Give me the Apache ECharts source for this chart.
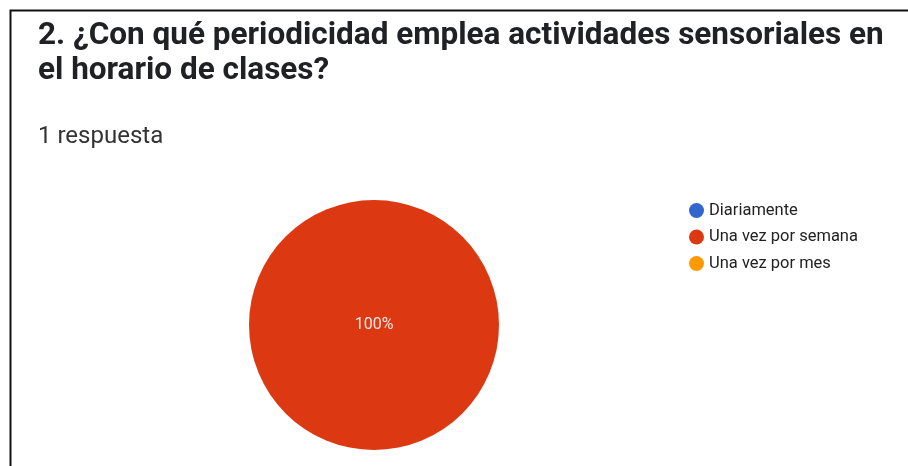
<!DOCTYPE html>
<html>
<head>
<meta charset="utf-8">
<script src="https://cdn.jsdelivr.net/npm/echarts@6/dist/echarts.min.js"></script>
<style>
html,body{margin:0;padding:0;background:#fff;}
#c{width:908px;height:466px;}
</style>
</head>
<body>
<div id="c"></div>
<script>
const titleLines = ["2. ¿Con qué periodicidad emplea actividades sensoriales en", "el horario de clases?"];
const subtitle = "1 respuesta";
const categories = ["Diariamente", "Una vez por semana", "Una vez por mes"];
const values = [0, 1, 0];
const colors = ["#3366cc", "#dc3912", "#ff9900"];

const chart = echarts.init(document.getElementById('c'));
chart.setOption({
  animation: false,
  graphic: [{
    type: 'rect',
    shape: {x: 10.5, y: 10.5, width: 920, height: 470},
    style: {fill: 'none', stroke: '#111', lineWidth: 2},
    silent: true
  }],
  title: [{
    text: titleLines.join('\n'),
    left: 33,
    top: 14,
    textStyle: {fontFamily: 'Roboto', fontSize: 31.5, fontWeight: 'bold', color: '#202124', lineHeight: 35}
  }, {
    text: subtitle,
    left: 33,
    top: 120,
    textStyle: {fontFamily: 'Roboto', fontSize: 24, fontWeight: 'normal', color: '#333'}
  }],
  color: colors,
  legend: {
    orient: 'vertical',
    left: 684,
    top: 197,
    icon: 'circle',
    itemWidth: 15,
    itemHeight: 15,
    itemGap: 9.5,
    textStyle: {fontFamily: 'Roboto', fontSize: 16.5, lineHeight: 15, color: '#222'},
    data: categories
  },
  series: [{
    type: 'pie',
    center: [374, 325],
    radius: [0, 125],
    startAngle: 90,
    stillShowZeroSum: true,
    itemStyle: {borderWidth: 0},
    label: {
      show: true,
      position: 'center',
      fontFamily: 'Roboto',
      fontSize: 16,
      color: '#fbe9e4',
      padding: [4, 0, 0, 0],
      formatter: p => p.percent > 0 ? Math.round(p.percent) + '%' : ''
    },
    labelLine: {show: false},
    emphasis: {disabled: true},
    data: categories.map((c, i) => ({name: c, value: values[i]}))
  }]
});
</script>
</body>
</html>
